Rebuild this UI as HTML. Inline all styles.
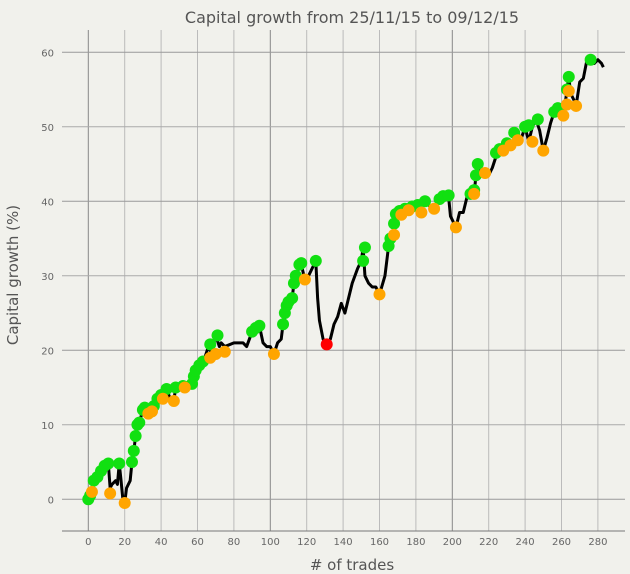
<!DOCTYPE html>
<html><head><meta charset="utf-8"><style>
body{margin:0;background:#f1f1ec;}
svg{display:block;font-family:"DejaVu Sans","Liberation Sans",sans-serif;}
</style></head><body>
<svg id="c" width="630" height="574">
<rect width="630" height="574" fill="#f1f1ec"/>
<text x="352" y="23" text-anchor="middle" font-size="16" fill="#555">Capital growth from 25/11/15 to 09/12/15</text>
<text x="352" y="570" text-anchor="middle" font-size="15" fill="#555"># of trades</text>
<text transform="translate(18,275) rotate(-90)" text-anchor="middle" font-size="15" fill="#555">Capital growth (%)</text>
<g id="grid"></g><g id="ticks"></g><g id="marks"></g>
</svg>
<script>
const xTicks=[0,20,40,60,80,100,120,140,160,180,200,220,240,260,280];
const yTicks=[0,10,20,30,40,50,60];
const lineX=[0,2,3,5,7,9,11,12,13,15,16,17,18,19,20,21,23,24,25,26,27,28,30,32,34,36,38,40,41,43,45,47,48,51,55,57,58,60,62,64,66,68,69,70,72,73,75,80,85,87,90,92,94,96,98,100,102,104,106,107,109,110,112,113,114,116,117,119,121,123,125,126,127,129,131,133,135,137,139,141,143,145,148,150,151,152,154,156,158,160,163,165,167,168,169,170,172,174,176,178,180,182,183,185,187,189,191,193,195,198,199,201,202,204,206,208,210,212,213,214,216,218,220,222,224,226,228,230,232,234,236,238,240,242,244,246,248,250,252,254,256,258,260,262,263,264,265,267,268,270,272,274,276,278,280,282,283];
const lineY=[0,1,2.5,3,3.8,4.5,4.8,1.5,2,2.5,2,4.8,2.5,0,-0.5,1.5,2.5,5,6.5,8.5,10,10.3,12,11.5,12,12.5,13.5,14,13.5,14.8,13.5,13.2,15,15.2,15.5,16,17,18,18.5,19,20.5,19.5,21,22,20.5,21,20.5,21,21,20.5,22.5,23,23.3,21,20.5,20.5,19.5,21,21.5,23.5,25.5,26.5,27,29,29.5,31.5,31.5,29.5,30,31,32,27,24,21.5,20.8,21.5,23.5,24.5,26.3,25,27,29,31,32,33.8,30,29,28.5,28.5,27.5,30,34,35,36,37,38.5,38.5,38,39,39,39,38.5,39.5,40,39.5,39,39.5,40,40.5,40.5,38,37,36.5,38.5,38.5,40.5,41,41,43.5,45,44,44,43.5,44.5,46,47,47,46.8,47.5,48,49,48.5,50,48,50,51,49.5,46.8,48.5,50.5,52,52.5,51.5,53,55,56.7,54.5,53.5,52.8,56,56.5,59,58.5,58.5,59,58.5,58];
const greenX=[0,1,3,5,7,9,11,17,24,25,26,27,28,30,31,36,38,40,43,48,52,57,58,59,61,63,67,71,90,92,94,107,108,109,110,112,113,114,116,117,125,151,152,165,166,168,169,171,174,178,181,185,193,195,198,210,212,213,214,224,226,230,234,240,242,247,256,258,263,264,276];
const greenY=[0,0.5,2.5,3,3.8,4.5,4.8,4.8,5,6.5,8.5,10,10.3,12,12.3,12.5,13.5,14,14.8,15,15.2,15.5,16.5,17.3,18,18.5,20.8,22,22.5,23,23.3,23.5,25,26,26.5,27,29,30,31.5,31.7,32,32,33.8,34,35,37,38.3,38.7,39,39.3,39.5,40,40.3,40.7,40.8,41,41.5,43.5,45,46.5,47,47.8,49.2,50,50.2,51,52,52.5,55,56.7,59];
const orangeX=[2,12,20,33,35,41,47,53,67,70,75,102,119,160,168,172,176,183,190,202,212,218,228,232,236,244,250,261,263,264,268];
const orangeY=[1,0.8,-0.5,11.5,11.8,13.5,13.2,15,19,19.5,19.8,19.5,29.5,27.5,35.5,38.2,38.8,38.5,39,36.5,41,43.8,46.8,47.5,48.2,48,46.8,51.5,53,54.8,52.8];
const redX=[131];
const redY=[20.8];

const NS="http://www.w3.org/2000/svg";
const X=v=>88.3+v*1.82;
const Y=v=>499.3-v*7.45;
const T=30,B=531;
function mk(tag,attrs,parent){const e=document.createElementNS(NS,tag);for(const k in attrs)e.setAttribute(k,attrs[k]);parent.appendChild(e);return e;}
const grid=document.getElementById('grid'),ticks=document.getElementById('ticks'),marks=document.getElementById('marks');
xTicks.forEach(v=>{const x=X(v);const major=v%100===0;
 const g=mk('line',{x1:x,x2:x,y1:T,y2:B,stroke:major?'#888':'#bbb','stroke-width':1},grid);
 
 });
yTicks.forEach(v=>{const y=Y(v);
 const g=mk('line',{x1:62,x2:625,y1:y,y2:y,stroke:v%20===0?'#999':'#aaa','stroke-width':1},grid);
 
 
 const t=mk('text',{x:54,y:y+4,'text-anchor':'end','font-size':10,fill:'#666'},ticks);t.textContent=v;
 
 });
const ax=mk('line',{x1:62,x2:625,y1:B,y2:B,stroke:'#777','stroke-width':1},grid);


xTicks.forEach(v=>{const x=X(v);
 const t=mk('text',{x:x,y:545,'text-anchor':'middle','font-size':10,fill:'#666'},ticks);t.textContent=v;
 
 });
const pl=mk('polyline',{points:lineX.map((x,i)=>X(x)+','+Y(lineY[i])).join(' '),fill:'none',stroke:'#000','stroke-width':3,'stroke-linejoin':'round'},marks);


function dots(xs,ys,col,name){xs.forEach((x,i)=>{const c=mk('circle',{cx:X(x),cy:Y(ys[i]),r:6,fill:col},marks);
 
 });}
dots(greenX,greenY,'#11e011','new-high-point');
dots(orangeX,orangeY,'#ffa500','drawdown-point');
dots(redX,redY,'#ff0000','max-drawdown-point');
</script>
</body></html>
